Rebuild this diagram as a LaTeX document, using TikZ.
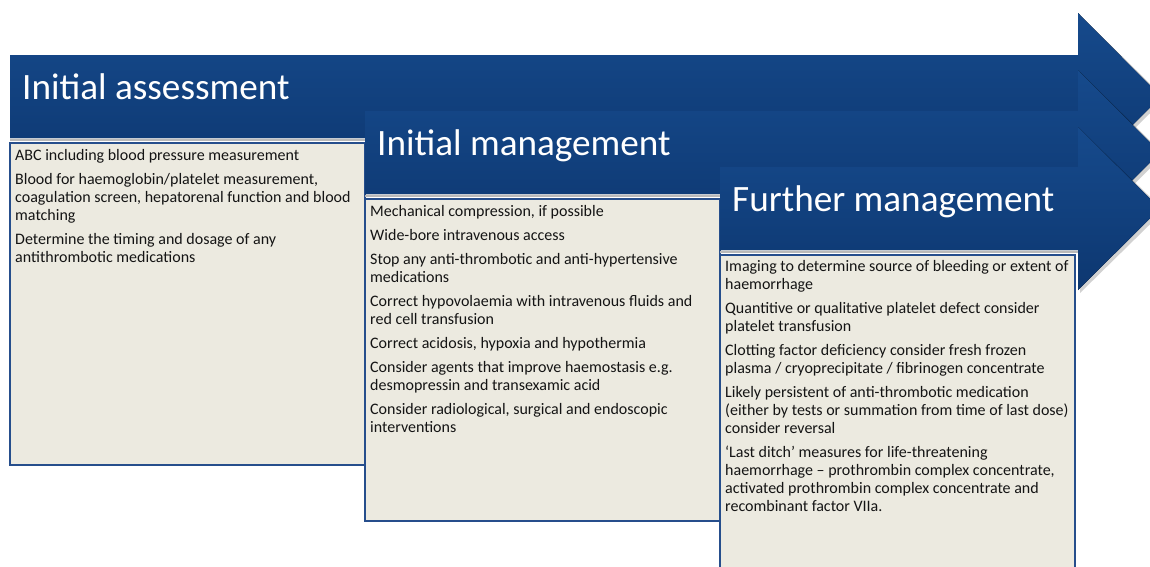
\documentclass[tikz,border=0pt]{standalone}
\usepackage{fontspec}
\setmainfont{Carlito}
\definecolor{arrtop}{RGB}{22,74,140}
\definecolor{arrbot}{RGB}{13,55,112}
\definecolor{boxfill}{RGB}{236,234,224}
\definecolor{boxline}{RGB}{38,78,140}
\definecolor{txt}{RGB}{20,20,20}
\tikzset{
  arrowshape/.style={top color=arrtop,bottom color=arrbot,draw=none},
  arrowshadow/.style={fill=black,opacity=0.18,draw=none},
  sepline/.style={draw=gray!55,line width=2.5pt},
  textbox/.style={fill=boxfill,draw=boxline,line width=1.4pt},
  titletext/.style={text=white,font=\fontsize{37.2}{42}\selectfont,anchor=base west,inner sep=0pt},
  bodytext/.style={text=txt,font=\fontsize{16}{18}\selectfont,anchor=north west,align=left,inner sep=0pt},
}
\begin{document}
\begin{tikzpicture}[x=1pt,y=-1pt]
\useasboundingbox (0,0) rectangle (1150,566);
\clip (0,0) rectangle (1150,566);

% ---------- stage 1 ----------
\fill[arrowshadow] (1080,15) -- (1165,98.5) -- (1080,182) -- cycle;
\fill[arrowshape] (10,55) -- (1078,55) -- (1078,13) -- (1161,96.5) -- (1078,180) -- (1078,138) -- (10,138) -- cycle;
\draw[sepline] (10,140) -- (1078,140);
\node[titletext] (t1) at (22,99) {Initial assessment};
\draw[textbox] (10,143) rectangle (365,465);
\node[bodytext] (b1) at (15,149) {ABC including blood pressure measurement\\[6pt]
Blood for haemoglobin/platelet measurement,\\
coagulation screen, hepatorenal function and blood\\
matching\\[6pt]
Determine the timing and dosage of any\\
antithrombotic medications};

% ---------- stage 2 ----------
\fill[arrowshadow] (1080,72) -- (1164,154.5) -- (1080,238) -- cycle;
\fill[arrowshape] (365,111) -- (1078,111) -- (1078,70) -- (1160,152.5) -- (1078,235) -- (1078,194) -- (365,194) -- cycle;
\draw[sepline] (365,196) -- (1078,196);
\node[titletext] (t2) at (377,155.5) {Initial management};
\draw[textbox] (365,199) rectangle (720,521);
\node[bodytext] (b2) at (370,205) {Mechanical compression, if possible\\[6pt]
Wide-bore intravenous access\\[6pt]
Stop any anti-thrombotic and anti-hypertensive\\
medications\\[6pt]
Correct hypovolaemia with intravenous fluids and\\
red cell transfusion\\[6pt]
Correct acidosis, hypoxia and hypothermia\\[6pt]
Consider agents that improve haemostasis e.g.\\
desmopressin and transexamic acid\\[6pt]
Consider radiological, surgical and endoscopic\\
interventions};

% ---------- stage 3 ----------
\fill[arrowshadow] (1080,129) -- (1164,210.5) -- (1080,293) -- cycle;
\fill[arrowshape] (720,167) -- (1078,167) -- (1078,127) -- (1160,208.5) -- (1078,290) -- (1078,250) -- (720,250) -- cycle;
\draw[sepline] (720,252) -- (1078,252);
\node[titletext] (t3) at (732,211) {Further management};
\draw[textbox] (720,255) rectangle (1075,575);
\node[bodytext] (b3) at (725,260.5) {Imaging to determine source of bleeding or extent of\\
haemorrhage\\[6pt]
Quantitive or qualitative platelet defect consider\\
platelet transfusion\\[6pt]
Clotting factor deficiency consider fresh frozen\\
plasma / cryoprecipitate / fibrinogen concentrate\\[6pt]
Likely persistent of anti-thrombotic medication\\
(either by tests or summation from time of last dose)\\
consider reversal\\[6pt]
‘Last ditch’ measures for life-threatening\\
haemorrhage -- prothrombin complex concentrate,\\
activated prothrombin complex concentrate and\\
recombinant factor VIIa.};
\end{tikzpicture}
\end{document}
